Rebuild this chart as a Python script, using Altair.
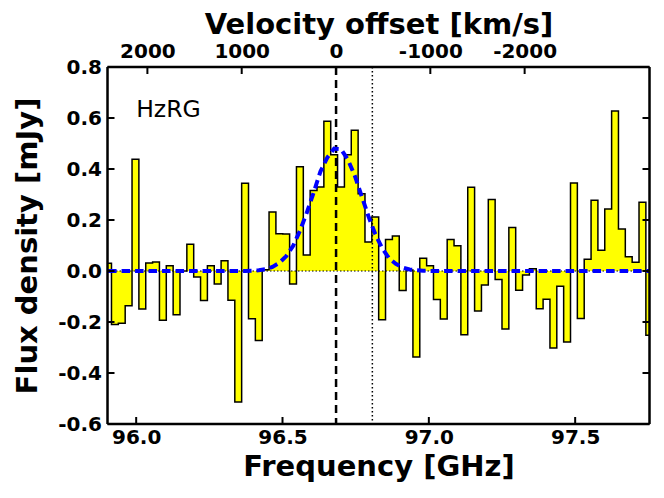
import altair as alt
import pandas as pd

first_edge = 95.8922
bin_width = 0.02341
flux = [0.03, -0.21, -0.205, -0.136, 0.438, -0.149, 0.031, 0.035, -0.193, 0.021,
        -0.172, 0.0, 0.105, -0.024, -0.116, 0.021, -0.051, 0.04, -0.115, -0.514,
        0.344, -0.187, -0.273, 0.005, 0.231, 0.146, 0.145, -0.051, 0.409, 0.063,
        0.316, 0.329, 0.587, 0.456, 0.329, 0.456, 0.552, 0.303, 0.114, 0.212,
        -0.191, 0.124, 0.137, -0.076, 0.004, -0.337, 0.05, 0.021, -0.112, -0.188,
        0.124, 0.099, -0.25, 0.328, -0.157, -0.055, 0.28, -0.033, -0.227, 0.171,
        -0.075, -0.016, 0.009, -0.148, -0.111, -0.302, -0.06, -0.278, 0.345, -0.186,
        0.046, 0.277, 0.081, 0.243, 0.627, 0.165, 0.056, 0.034, 0.27, -0.252]
fit = [0, 0, 0, 0, 0, 0, 0, 0, 0, 0, 0, 0, 0, 0, 0, 0, 0, 0, 0, 0, 0, 0.001,
       0.003, 0.007, 0.016, 0.032, 0.058, 0.098, 0.157, 0.228, 0.307, 0.39, 0.445,
       0.48, 0.478, 0.437, 0.375, 0.295, 0.215, 0.145, 0.09, 0.05, 0.028, 0.014,
       0.006, 0.003, 0.001, 0, 0, 0, 0, 0, 0, 0, 0, 0, 0, 0, 0, 0, 0, 0, 0, 0, 0,
       0, 0, 0, 0, 0, 0, 0, 0, 0, 0, 0, 0, 0, 0, 0]
freq_ticks = [96.0, 96.5, 97.0, 97.5]
vel_ticks = [2000, 1000, 0, -1000, -2000]
flux_ticks = [0.8, 0.6, 0.4, 0.2, 0.0, -0.2, -0.4, -0.6]
line_center = 96.683
line_dotted = 96.807
freq_domain = [95.902, 97.754]
vel_domain = [2423, -3324]
flux_domain = [-0.6, 0.8]

edges = [first_edge + bin_width * i for i in range(len(flux) + 1)]
hist = pd.DataFrame({"f": edges, "v": flux + [flux[-1]]})
curve = pd.DataFrame({"f": [e + bin_width / 2 for e in edges[:-1]], "v": fit})

FONT = "DejaVu Sans"
HYPHEN = "replace(datum.label, '\u2212', '-')"
LABEL = 20
TITLE = 29
common = dict(tickSize=0, grid=False, domain=False, labelFont=FONT, labelFontWeight="bold",
              labelFontSize=LABEL, labelColor="black", titleFont=FONT, titleFontWeight="bold",
              titleFontSize=TITLE, titleColor="black", labelFlush=False, labelExpr=HYPHEN)
xs = alt.Scale(domain=freq_domain, nice=False, zero=False)
ys = alt.Scale(domain=flux_domain, nice=False, zero=False)
bottom_axis = alt.Axis(values=freq_ticks, format=".1f", title="Frequency [GHz]", labelPadding=3, titlePadding=5, **common)
left_axis = alt.Axis(values=flux_ticks, format=".1f", title="Flux density [mJy]", labelPadding=6, titlePadding=15, **common)
top_axis = alt.Axis(values=vel_ticks, format="d", title="Velocity offset [km/s]", orient="top", labelPadding=6, titlePadding=2, **common)
X = alt.X("f:Q", scale=xs, axis=None)
Y = alt.Y("v:Q", scale=ys, axis=left_axis)

W, H = 542, 357
area = alt.Chart(hist).mark_area(interpolate="step-after", color="#ffff00", clip=True).encode(
    x=alt.X("f:Q", scale=xs, axis=bottom_axis), y=Y, y2=alt.Y2(datum=0))
outline = alt.Chart(hist).mark_line(interpolate="step-after", color="black", strokeWidth=1.5, clip=True).encode(x=X, y=Y)
zero = alt.Chart(pd.DataFrame({"v": [0.0]})).mark_rule(color="black", strokeWidth=1, strokeDash=[1.5, 2]).encode(y=Y)
center = alt.Chart(pd.DataFrame({"f": [line_center]})).mark_rule(color="black", strokeWidth=2.5, strokeDash=[8, 5]).encode(x=X)
dotted = alt.Chart(pd.DataFrame({"f": [line_dotted]})).mark_rule(color="black", strokeWidth=1.5, strokeDash=[1.5, 2.5]).encode(x=X)
gauss = alt.Chart(curve).mark_line(color="#0000ff", strokeWidth=4, strokeDash=[8.5, 5], clip=True).encode(x=X, y=Y)
label = alt.Chart(pd.DataFrame({"f": [96.0], "v": [0.63], "t": ["HzRG"]})).mark_text(
    align="left", baseline="middle", font=FONT, fontSize=23.5, color="black").encode(x=X, y=Y, text="t:N")

tick_len = 7
f_df = pd.DataFrame({"f": freq_ticks})
y_df = pd.DataFrame({"v": flux_ticks})
ticks_b = alt.Chart(f_df).mark_rule(color="black", strokeWidth=2).encode(x=X, y=alt.value(H), y2=alt.value(H - tick_len))
ticks_l = alt.Chart(y_df).mark_rule(color="black", strokeWidth=2).encode(y=Y, x=alt.value(0), x2=alt.value(tick_len))
ticks_r = alt.Chart(y_df).mark_rule(color="black", strokeWidth=2).encode(y=Y, x=alt.value(W), x2=alt.value(W - tick_len))

frame_df = pd.DataFrame({"k": [0]})
frame_t = alt.Chart(frame_df).mark_rule(color="black", strokeWidth=2.5).encode(x=alt.value(0), x2=alt.value(W), y=alt.value(0))
frame_b = alt.Chart(frame_df).mark_rule(color="black", strokeWidth=2.5).encode(x=alt.value(0), x2=alt.value(W), y=alt.value(H))
frame_l = alt.Chart(frame_df).mark_rule(color="black", strokeWidth=2.5).encode(y=alt.value(0), y2=alt.value(H), x=alt.value(0))
frame_r = alt.Chart(frame_df).mark_rule(color="black", strokeWidth=2.5).encode(y=alt.value(0), y2=alt.value(H), x=alt.value(W))

vs = alt.Scale(domain=vel_domain, nice=False, zero=False)
ticks_t = alt.Chart(pd.DataFrame({"w": vel_ticks})).mark_rule(color="black", strokeWidth=2).encode(
    x=alt.X("w:Q", scale=vs, axis=top_axis), y=alt.value(0), y2=alt.value(tick_len))

chart = alt.layer(area, outline, zero, center, dotted, gauss, label, ticks_b, ticks_l, ticks_r, ticks_t,
                  frame_t, frame_b, frame_l, frame_r).resolve_scale(
    x="independent"
).properties(
    width=W, height=H,
    autosize=alt.AutoSizeParams(type="none"),
    padding={"left": 99.5, "top": 59, "right": 6, "bottom": 66},
).configure_view(stroke=None).configure(background="white")

chart.save("out.html", embed_options={"renderer": "svg", "actions": False})
